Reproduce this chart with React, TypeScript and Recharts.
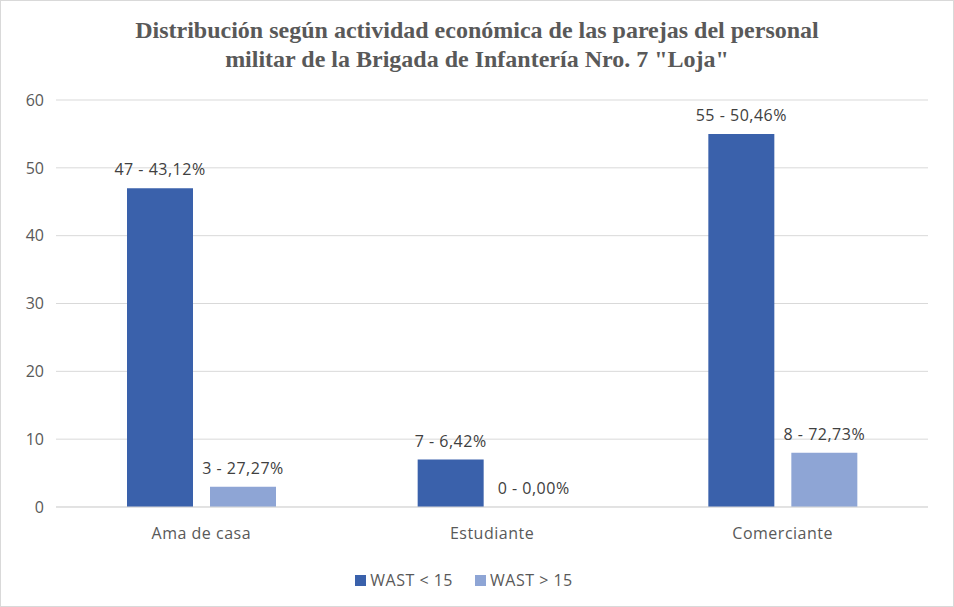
import { BarChart, Bar, XAxis, YAxis, CartesianGrid, Legend, LabelList } from 'recharts';

const categories = ['Ama de casa', 'Estudiante', 'Comerciante'];
const wastLow = [47, 7, 55];
const wastHigh = [3, 0, 8];
const pctLow = ['43,12%', '6,42%', '50,46%'];
const pctHigh = ['27,27%', '0,00%', '72,73%'];
const yTicks = [0, 10, 20, 30, 40, 50, 60];

const COLORS = {
  low: '#3A61AB',
  high: '#8EA5D5',
  text: '#595959',
  label: '#404040',
  grid: '#D9D9D9',
};

const FONT = '"Open Sans", "Noto Sans", sans-serif';

const data = categories.map((c, i) => ({
  name: c,
  low: wastLow[i],
  high: wastHigh[i],
  lowLabel: `${wastLow[i]} - ${pctLow[i]}`,
  highLabel: `${wastHigh[i]} - ${pctHigh[i]}`,
}));

function BarLabel(props: any) {
  const { x, y, width, value } = props;
  return (
    <text
      x={x + width / 2}
      y={y - 13}
      textAnchor="middle"
      fill={COLORS.label}
      fontSize={16}
      letterSpacing={0.5}
      fontFamily={FONT}
    >
      {value}
    </text>
  );
}

function LegendContent() {
  const items = [
    { label: 'WAST < 15', color: COLORS.low },
    { label: 'WAST > 15', color: COLORS.high },
  ];
  return (
    <div style={{ display: 'flex', justifyContent: 'center', gap: 22, fontFamily: FONT, fontSize: 16, letterSpacing: 0.5, color: COLORS.text }}>
      {items.map((it) => (
        <div key={it.label} style={{ display: 'flex', alignItems: 'center', gap: 4 }}>
          <span style={{ width: 11, height: 11, background: it.color, display: 'inline-block' }} />
          <span>{it.label}</span>
        </div>
      ))}
    </div>
  );
}

// tiny min height so a zero bar still gets its data label, without a visible mark
const minHeight = (v: number) => (v === 0 ? 0.01 : 0);

export default function App() {
  return (
    <div style={{ position: 'absolute', left: 0, top: 0, width: 954, height: 607, background: '#fff' }}>
      <div
        style={{
          position: 'absolute',
          inset: 0,
          border: '1px solid #D9D9D9',
          boxSizing: 'border-box',
          pointerEvents: 'none',
        }}
      />
      <div
        style={{
          position: 'absolute',
          top: 16,
          left: 0,
          width: 954,
          textAlign: 'center',
          fontFamily: '"Liberation Serif", "Times New Roman", serif',
          fontWeight: 'bold',
          fontSize: 24,
          lineHeight: '29px',
          color: COLORS.text,
        }}
      >
        Distribución según actividad económica de las parejas del personal
        <br />
        militar de la Brigada de Infantería Nro. 7 "Loja"
      </div>
      <BarChart
        width={954}
        height={607}
        data={data}
        margin={{ top: 100, right: 26, left: 0, bottom: 8 }}
        barSize={66}
        barGap={17}
      >
        <CartesianGrid vertical={false} stroke={COLORS.grid} strokeWidth={1} />
        <XAxis
          dataKey="name"
          height={62}
          tickLine={false}
          tickSize={0}
          tickMargin={21}
          axisLine={{ stroke: COLORS.grid }}
          tick={{ fill: COLORS.text, fontSize: 16, letterSpacing: 0.5, fontFamily: FONT }}
        />
        <YAxis
          width={56}
          domain={[0, 60]}
          ticks={yTicks}
          axisLine={false}
          tickLine={false}
          tickSize={0}
          tickMargin={12}
          tick={{ fill: COLORS.text, fontSize: 16, fontFamily: FONT }}
        />
        <Legend verticalAlign="bottom" height={30} content={<LegendContent />} />
        <Bar dataKey="low" fill={COLORS.low} isAnimationActive={false}>
          <LabelList dataKey="lowLabel" content={BarLabel} />
        </Bar>
        <Bar dataKey="high" fill={COLORS.high} minPointSize={minHeight} isAnimationActive={false}>
          <LabelList dataKey="highLabel" content={BarLabel} />
        </Bar>
      </BarChart>
    </div>
  );
}
